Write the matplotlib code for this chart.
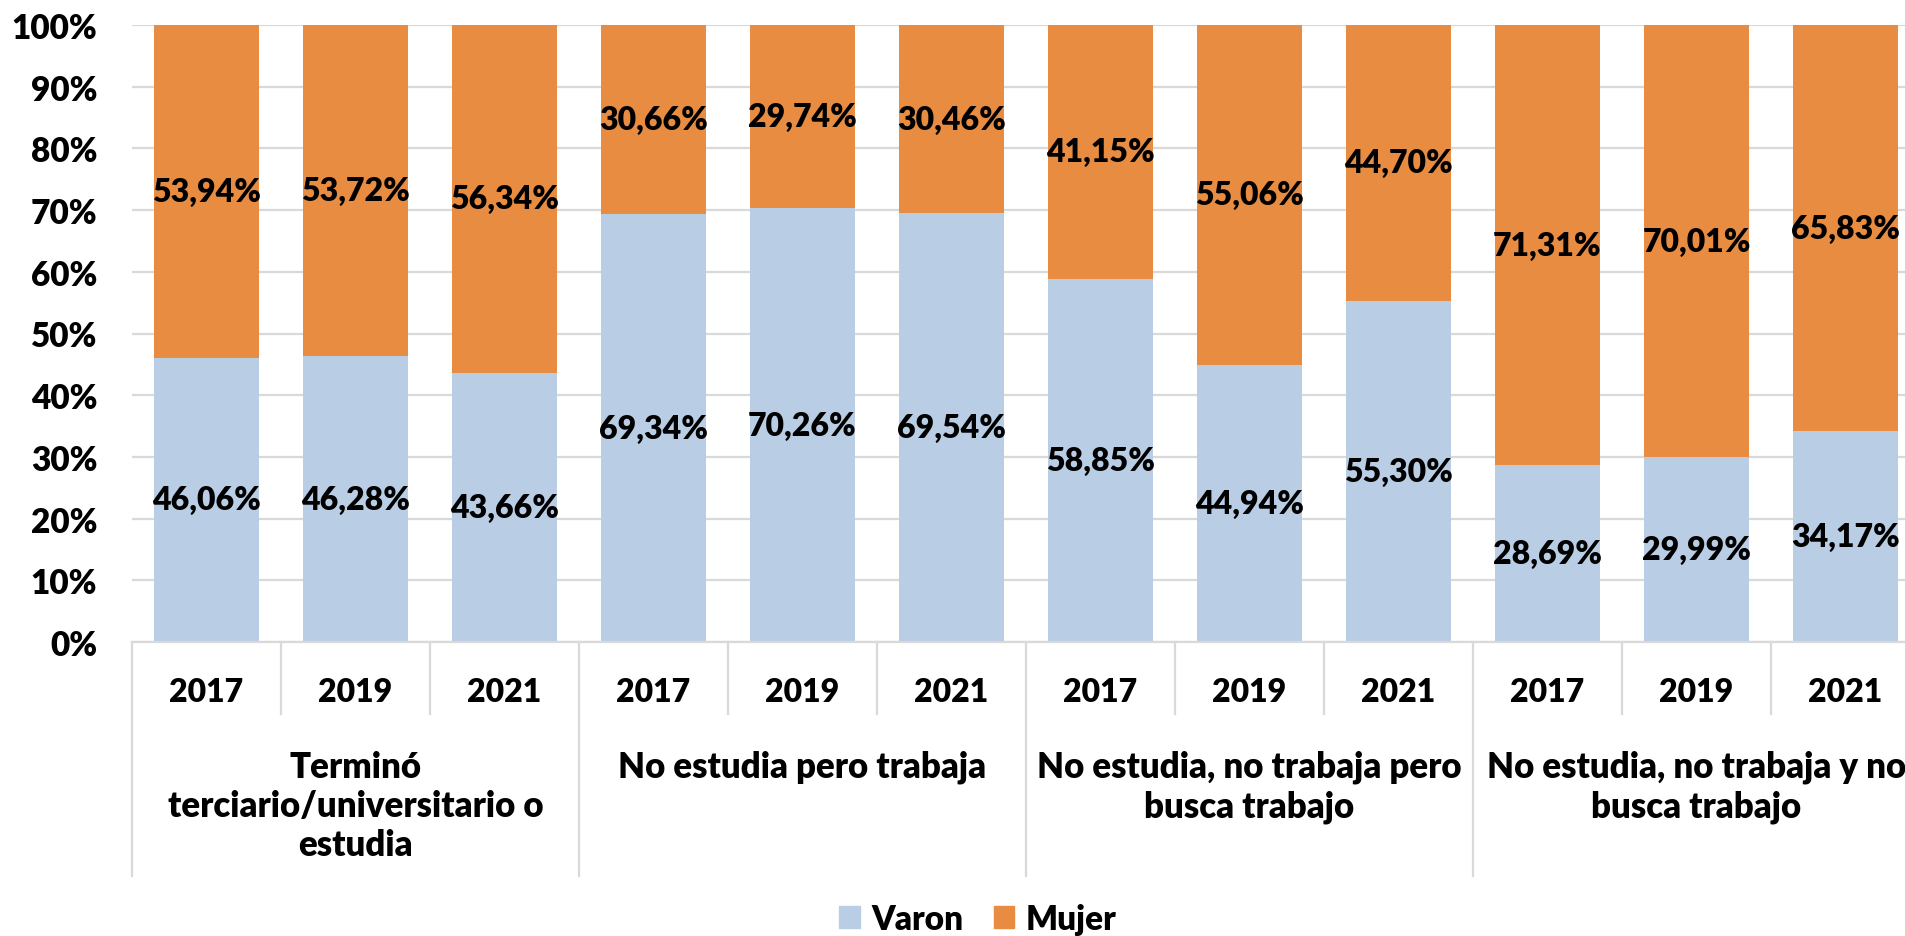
import matplotlib
matplotlib.use("Agg")
import matplotlib.pyplot as plt
from matplotlib.patches import Patch
import numpy as np

# Data
years = ["2017", "2019", "2021"]
groups = ["Terminó\nterciario/universitario o\nestudia",
          "No estudia pero trabaja",
          "No estudia, no trabaja pero\nbusca trabajo",
          "No estudia, no trabaja y no\nbusca trabajo"]
varon = [46.06, 46.28, 43.66, 69.34, 70.26, 69.54, 58.85, 44.94, 55.30, 28.69, 29.99, 34.17]
mujer = [53.94, 53.72, 56.34, 30.66, 29.74, 30.46, 41.15, 55.06, 44.70, 71.31, 70.01, 65.83]

c_varon = "#B9CDE5"
c_mujer = "#E88C42"
grid_c = "#D9D9D9"

plt.rcParams['font.family'] = ['Lato', 'DejaVu Sans']
fw = "heavy"
fs = 23

W, H = 1906, 937
fig = plt.figure(figsize=(W / 100, H / 100), dpi=100)
# axis spans 132..1920 px horizontally (cropped at right), 26..643 px vertically
ax = fig.add_axes([132 / W, (H - 643) / H, 1788 / W, 617 / H])

x = np.arange(len(varon))
ax.bar(x, varon, width=0.71, color=c_varon, zorder=2)
ax.bar(x, mujer, width=0.71, bottom=varon, color=c_mujer, zorder=2)

for i in range(len(varon)):
    ax.text(x[i], varon[i] / 2, f"{varon[i]:.2f}%".replace(".", ","),
            ha="center", va="center", fontsize=fs, fontweight=fw, zorder=3)
    ax.text(x[i], varon[i] + mujer[i] / 2, f"{mujer[i]:.2f}%".replace(".", ","),
            ha="center", va="center", fontsize=fs, fontweight=fw, zorder=3)

ax.set_xlim(-0.5, len(varon) - 0.5)
ax.set_ylim(0, 100)
ax.set_yticks(np.arange(0, 101, 10))
ax.set_yticklabels([f"{v}%" for v in range(0, 101, 10)], fontsize=24, fontweight=fw)
ax.tick_params(axis="y", length=0, pad=25)
ax.set_xticks([])
ax.yaxis.grid(True, color=grid_c, linewidth=1.6, zorder=0)
for s in ["left", "right", "top"]:
    ax.spines[s].set_visible(False)
ax.spines["bottom"].set_color(grid_c)
ax.spines["bottom"].set_linewidth(1.6)

# category axis: years and groups
trans = ax.get_xaxis_transform()
y_year_end = -72 / 617
y_grp_end = -234 / 617
for i in range(len(varon) + 1):
    b = i - 0.5
    yend = y_grp_end if i % 3 == 0 else y_year_end
    ax.plot([b, b], [0, yend], color=grid_c, linewidth=1.6, transform=trans, clip_on=False)

for i in range(len(varon)):
    ax.text(x[i], -49 / 617, years[i % 3], transform=trans, ha="center", va="center",
            fontsize=fs, fontweight=fw)

for g, name in enumerate(groups):
    ax.text(3 * g + 1, -108 / 617, name, transform=trans, ha="center", va="top",
            fontsize=25, fontweight=fw, linespacing=1.22)

handles = [Patch(color=c_varon, label="Varon"), Patch(color=c_mujer, label="Mujer")]
fig.legend(handles=handles, loc="center", bbox_to_anchor=(978 / W, 1 - 920 / H), ncol=2,
           frameon=False, prop={"size": 24, "weight": fw},
           handlelength=0.62, handleheight=0.62, handletextpad=0.35, columnspacing=0.9)

fig.savefig("out.png", dpi=100)
